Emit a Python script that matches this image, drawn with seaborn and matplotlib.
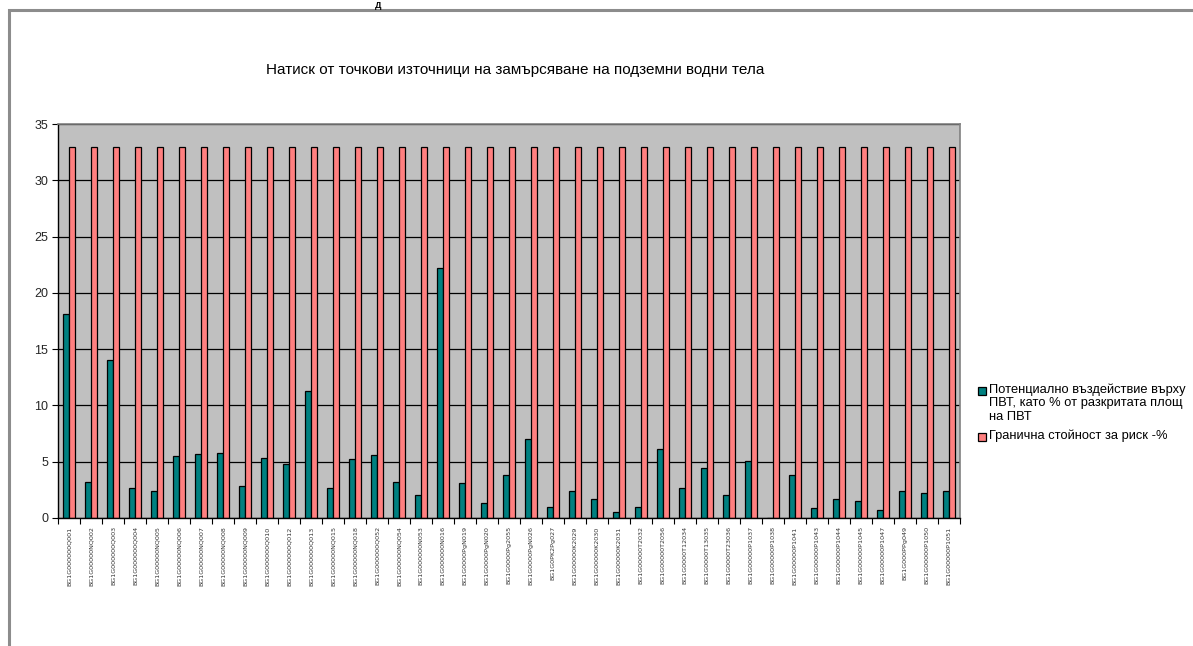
import matplotlib
matplotlib.use("Agg")
import matplotlib.pyplot as plt
from matplotlib.patches import Rectangle
from matplotlib.ticker import FixedLocator
import numpy as np
import pandas as pd
import seaborn as sns

# Groundwater body codes
codes = [
    "BG1G000000Q001", "BG1G00000NQ002", "BG1G000000Q003", "BG1G000000Q004",
    "BG1G00000NQ005", "BG1G00000NQ006", "BG1G00000NQ007", "BG1G00000NQ008",
    "BG1G00000NQ009", "BG1G000000Q010", "BG1G000000Q012", "BG1G000000Q013",
    "BG1G00000NQ015", "BG1G00000NQ018", "BG1G000000Q052", "BG1G00000NQ054",
    "BG1G000000N053", "BG1G000000N016", "BG1G0000PgN019", "BG1G0000PgN020",
    "BG1G0000Pg2055", "BG1G0000PgN026", "BG1G0PK2Pg027", "BG1G00000K2029",
    "BG1G00000K2030", "BG1G00000K2031", "BG1G00000T2032", "BG1G00000T2056",
    "BG1G0000T12034", "BG1G0000T13035", "BG1G0000T23036", "BG1G00000P1037",
    "BG1G00000P1038", "BG1G00000P1041", "BG1G00000P1043", "BG1G00000P1044",
    "BG1G00000P1045", "BG1G00000P1047", "BG1G000PPg049", "BG1G00000P1050",
    "BG1G00000P1051",
]

# Potential impact, % of exposed groundwater body area
impact = [
    18.1, 3.2, 14.0, 2.7, 2.4, 5.5, 5.7, 5.8, 2.8, 5.3, 4.8, 11.3,
    2.7, 5.2, 5.6, 3.2, 2.0, 22.2, 3.1, 1.3, 3.8, 7.0, 1.0, 2.4,
    1.7, 0.5, 1.0, 6.1, 2.7, 4.4, 2.0, 5.1, 0.0, 3.8, 0.9, 1.7,
    1.5, 0.7, 2.4, 2.2, 2.4,
]

# Risk threshold, %
threshold = [33] * len(codes)

series_names = [
    "Потенциално въздействие върху\nПВТ, като % от разкритата площ\nна ПВТ",
    "Гранична стойност за риск -%",
]
series_colors = ["#008080", "#FF8080"]

title_text = "Натиск от точкови източници на замърсяване на подземни водни тела"

df = pd.DataFrame({
    "code": codes * 2,
    "value": impact + threshold,
    "series": [series_names[0]] * len(codes) + [series_names[1]] * len(codes),
})

sns.set_theme(style="white")
plt.rcParams["font.family"] = ["Liberation Sans", "DejaVu Sans"]

W, H = 1193, 646
fig = plt.figure(figsize=(W / 100, H / 100), dpi=100)
fig.patch.set_facecolor("white")

# Outer chart frame (runs off the right and bottom edges)
fig.add_artist(Rectangle((9 / W, -0.1), 1.2, 1 - 10 / H + 0.1,
                         transform=fig.transFigure, fill=False,
                         edgecolor="#8c8c8c", linewidth=2.2))

# Small page heading mark above the frame
fig.text(378 / W, 1 - 0.5 / H, "Д", ha="center", va="top",
         fontsize=6.5, fontweight="bold", color="black")

ax = fig.add_axes([58 / W, 1 - 518 / H, (960 - 58) / W, (518 - 124) / H])
ax.set_facecolor("#C0C0C0")

sns.barplot(data=df, x="code", y="value", hue="series",
            palette=series_colors, width=0.58, gap=0,
            edgecolor="black", linewidth=0.9, saturation=1,
            legend=False, ax=ax)

ax.set_ylim(0, 35)
ax.set_xlim(-0.5, len(codes) - 0.5)
ax.set_yticks(np.arange(0, 36, 5))
ax.yaxis.grid(True, color="black", linewidth=0.9)
ax.set_axisbelow(True)
ax.set_xlabel("")
ax.set_ylabel("")

for side in ["top", "right"]:
    ax.spines[side].set_color("#808080")
    ax.spines[side].set_linewidth(1.2)
for side in ["left", "bottom"]:
    ax.spines[side].set_color("black")
    ax.spines[side].set_linewidth(1.0)

ax.tick_params(axis="y", which="major", direction="out", length=4,
               width=0.8, color="black", labelsize=9, pad=3, left=True)
ax.tick_params(axis="x", which="major", length=0, labelsize=4.6, pad=6,
               labelrotation=90)
ax.xaxis.set_minor_locator(FixedLocator(np.arange(-0.5, len(codes), 1.0)))
ax.tick_params(axis="x", which="minor", direction="out", length=4,
               width=0.8, color="black", bottom=True)
for lbl in ax.get_xticklabels():
    lbl.set_fontfamily(["DejaVu Sans"])
    lbl.set_color("#333333")

fig.text(515 / W, 1 - 70 / H, title_text, ha="center", va="center",
         fontsize=11, color="black")

# Legend, drawn beside the plot area
legend_x = 978 / W
sq = 8
for name, col, y_px in zip(series_names, series_colors, [391, 437]):
    fig.add_artist(Rectangle((legend_x, 1 - (y_px + sq / 2) / H), sq / W, sq / H,
                             transform=fig.transFigure, facecolor=col,
                             edgecolor="black", linewidth=0.9))
    fig.text(legend_x + 11 / W, 1 - (y_px - 8) / H, name, ha="left", va="top",
             fontsize=9.3, linespacing=1.2, color="black")

fig.savefig("out.png", dpi=100, facecolor="white")
